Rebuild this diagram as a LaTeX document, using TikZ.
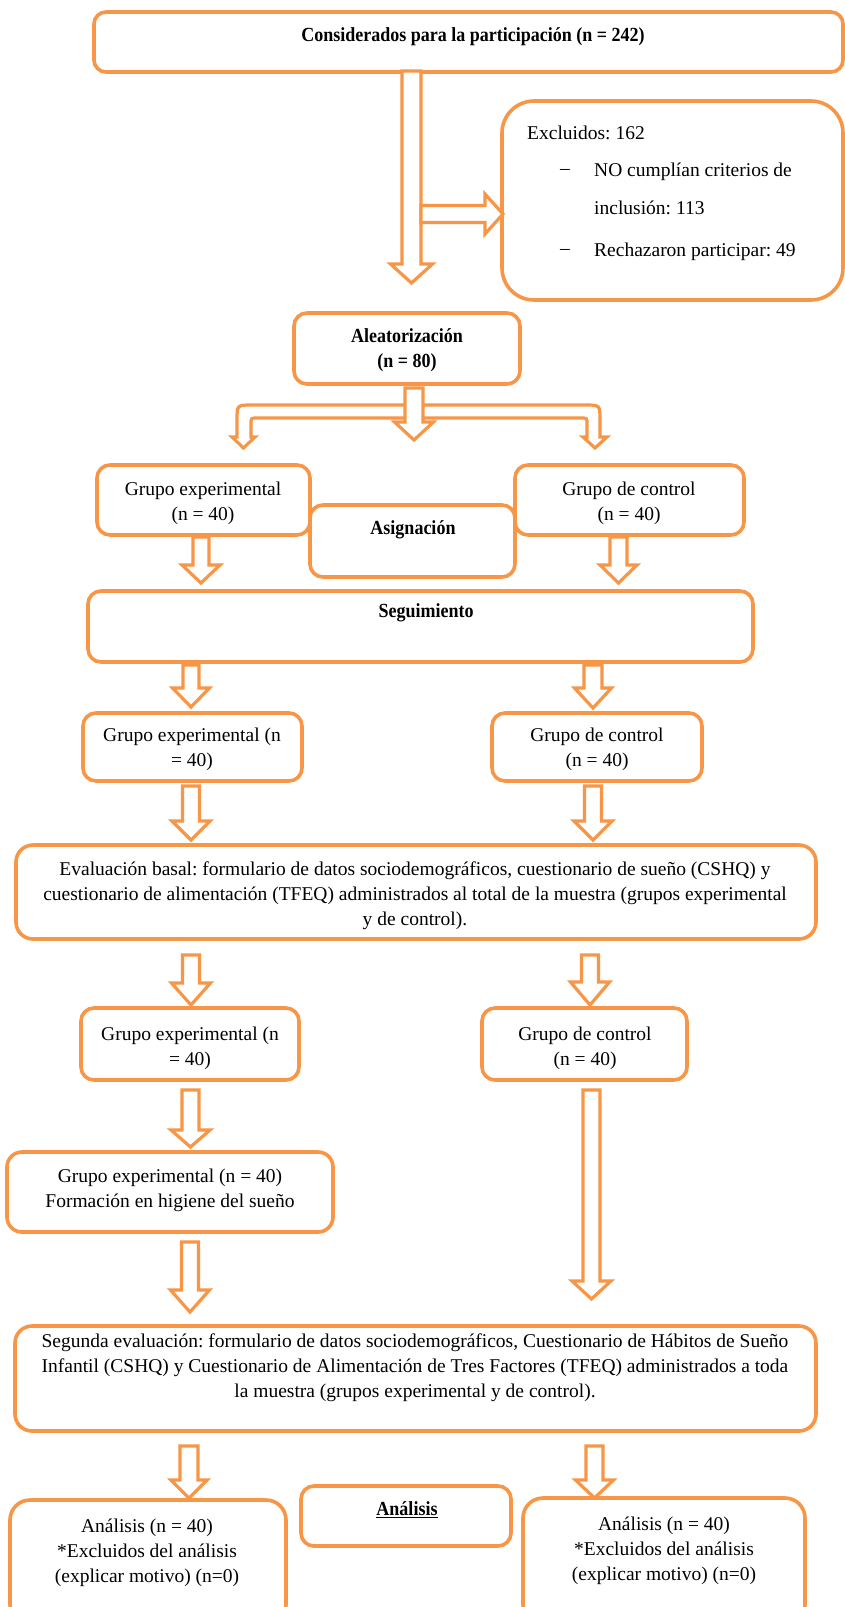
\documentclass[tikz,border=0pt]{standalone}
\usepackage{fontspec}
\setmainfont[BoldFeatures={FakeStretch=0.9}]{Liberation Serif}
\definecolor{org}{RGB}{247,150,70}
\tikzset{
  box/.style={draw=org, line width=3.6pt, inner sep=0pt},
  arr/.style={draw=org, line width=3.2pt, fill=white, line join=miter},
  txt/.style={font=\fontsize{19.5}{25}\selectfont\frenchspacing, align=center, inner sep=0pt, text=black},
  btxt/.style={txt, font=\fontsize{20}{25}\selectfont\frenchspacing\bfseries},
}
% box: name, x1, y1, x2, y2, corner radius
\newcommand{\bx}[6]{\node[box, rounded corners=#6pt, minimum width={#4-#2}, minimum height={#5-#3}] (#1) at ({(#2+#4)/2},{(#3+#5)/2}) {};}
% hollow down arrow: cx, ystart, yhead, ytip, shaft half, head half
\newcommand{\dnarr}[6]{\draw[arr] ({#1-#5},#2) -- ({#1+#5},#2) -- ({#1+#5},#3) -- ({#1+#6},#3) -- (#1,#4) -- ({#1-#6},#3) -- ({#1-#5},#3) -- cycle;}
\begin{document}
\begin{tikzpicture}[x=1pt,y=-1pt]
\clip (0,0) rectangle (845,1607);
\fill[white] (0,0) rectangle (845,1607);
% boxes
\bx{top}{94}{12}{843}{72}{12}
\bx{excl}{502}{101}{843}{300}{32}
\bx{alea}{294}{313}{520}{384}{13}
\bx{gexpa}{97}{465}{310}{535}{13}
\bx{gctla}{515}{465}{744}{535}{13}
\bx{asig}{310}{505}{515}{577}{13}
\bx{segu}{88}{591}{753}{662}{13}
\bx{gexpb}{83}{713}{302}{781}{13}
\bx{gctlb}{492}{713}{702}{781}{13}
\bx{eval}{16}{845}{816}{939}{17}
\bx{gexpc}{81}{1008}{299}{1080}{13}
\bx{gctlc}{482}{1008}{687}{1080}{13}
\bx{form}{7}{1152}{333}{1232}{15}
\bx{segev}{15}{1326}{816}{1431}{17}
\bx{anl}{10}{1500}{286}{1625}{20}
\bx{anc}{301}{1486}{511}{1546}{13}
\bx{anr}{523}{1498}{805}{1625}{20}
% arrows
\dnarr{411.5}{71}{264}{283}{9.5}{21}
\draw[arr] (421,205.5) -- (485,205.5) -- (485,194) -- (503,214) -- (485,234) -- (485,222.5) -- (421,222.5) -- cycle;
\draw[arr] (251,437) -- (251,424) .. controls (251,418) .. (257,418) -- (581,418) .. controls (587,418) .. (587,424) -- (587,437) -- (583,437) -- (595,448) -- (607,437) -- (600,437) -- (600,420) .. controls (600,405) .. (585,405) -- (252,405) .. controls (237,405) .. (237,420) -- (237,437) -- (232,437) -- (243.5,448) -- (255,437) -- cycle;
\dnarr{414}{388}{422}{440}{9}{19.5}
\dnarr{201}{537}{565}{583}{8}{19}
\dnarr{618.5}{537}{565}{583}{8.5}{18.5}
\dnarr{191}{665}{688}{707}{8}{18.5}
\dnarr{593}{665}{688}{708}{9}{18.5}
\dnarr{191}{786}{821}{840}{8.5}{19}
\dnarr{593}{786}{821}{840}{8.5}{19}
\dnarr{191}{955}{983}{1005}{8.5}{19.5}
\dnarr{590}{955}{982}{1005}{8.5}{19.5}
\dnarr{190.5}{1090}{1130}{1147}{8.5}{19.5}
\dnarr{591.5}{1090}{1281}{1299}{8.5}{19.5}
\dnarr{190}{1242}{1290}{1312}{8.5}{19.5}
\dnarr{189}{1446}{1480}{1498}{9}{18}
\dnarr{594.5}{1446}{1480}{1498}{8.5}{19}
% texts
\node[btxt] (ttop) at (473,37) {Considerados para la participación (n = 242)};
\node[txt, anchor=west] (te1) at (527,133) {Excluidos: 162};
\node[txt, anchor=west] (td1) at (560,172) {–};
\node[txt, anchor=west] (te2) at (594,172) {NO cumplían criterios de};
\node[txt, anchor=west] (te3) at (594,208) {inclusión: 113};
\node[txt, anchor=west] (td2) at (560,252) {–};
\node[txt, anchor=west] (te4) at (594,252) {Rechazaron participar: 49};
\node[btxt] (talea) at (407,350.5) {Aleatorización\\(n = 80)};
\node[txt] (tgexpa) at (203,503.5) {Grupo experimental\\(n = 40)};
\node[txt] (tgctla) at (629,503.5) {Grupo de control\\(n = 40)};
\node[btxt] (tasig) at (413,530) {Asignación};
\node[btxt] (tsegu) at (426,613) {Seguimiento};
\node[txt] (tgexpb) at (192,749.5) {Grupo experimental (n\\= 40)};
\node[txt] (tgctlb) at (597,749.5) {Grupo de control\\(n = 40)};
\node[txt] (teval) at (415,896) {Evaluación basal: formulario de datos sociodemográficos, cuestionario de sueño (CSHQ) y\\cuestionario de alimentación (TFEQ) administrados al total de la muestra (grupos experimental\\y de control).};
\node[txt] (tgexpc) at (190,1048) {Grupo experimental (n\\= 40)};
\node[txt] (tgctlc) at (585,1048) {Grupo de control\\(n = 40)};
\node[txt] (tform) at (170,1190.5) {Grupo experimental (n = 40)\\Formación en higiene del sueño};
\node[txt] (tsegev) at (415,1368) {Segunda evaluación: formulario de datos sociodemográficos, Cuestionario de Hábitos de Sueño\\Infantil (CSHQ) y Cuestionario de Alimentación de Tres Factores (TFEQ) administrados a toda\\la muestra (grupos experimental y de control).};
\node[txt] (tanl) at (147,1552.5) {Análisis (n = 40)\\*Excluidos del análisis\\(explicar motivo) (n=0)};
\node[btxt] (tanc) at (407,1510) {\underline{Análisis}};
\node[txt] (tanr) at (664,1550.5) {Análisis (n = 40)\\*Excluidos del análisis\\(explicar motivo) (n=0)};
\end{tikzpicture}
\end{document}
